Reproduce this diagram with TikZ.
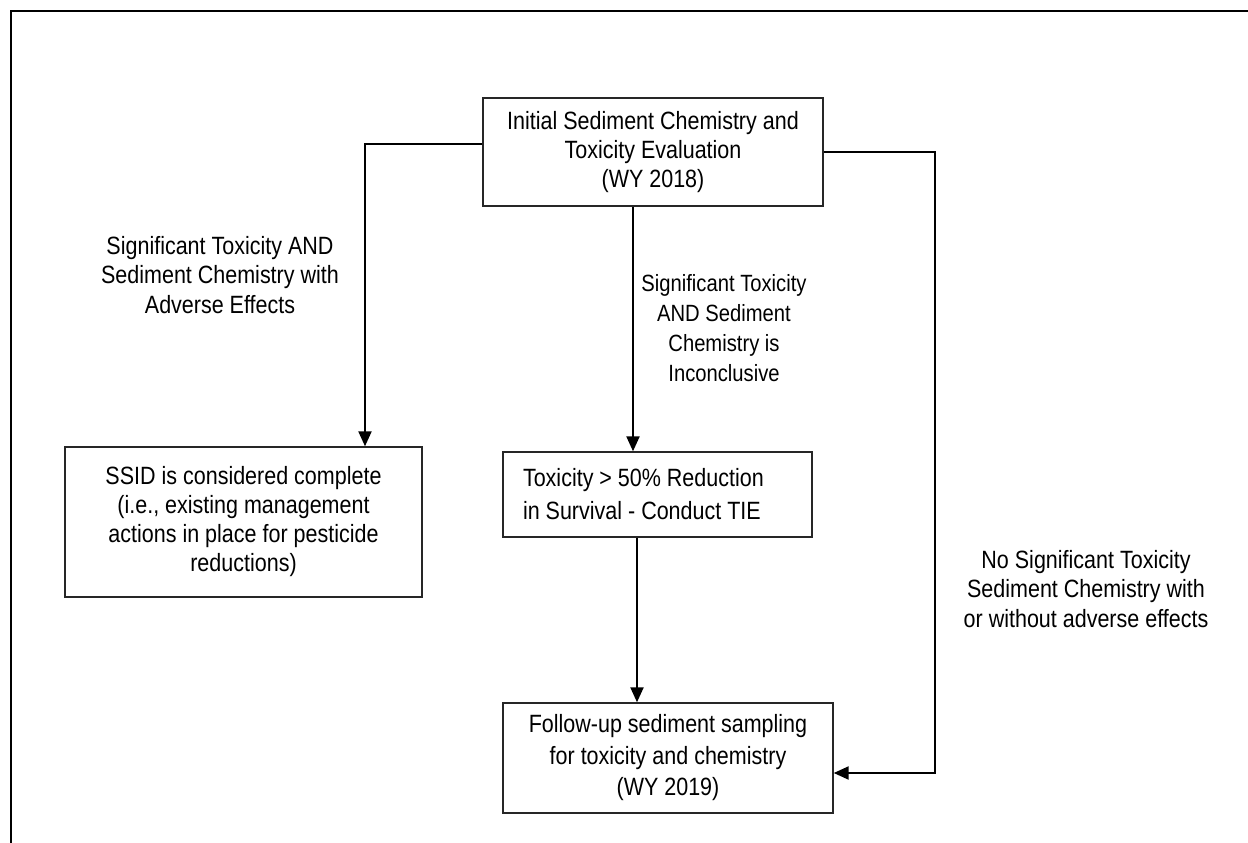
\documentclass[tikz,border=0pt]{standalone}
\usepackage{fontspec}
\setmainfont{Liberation Sans}[FakeStretch=0.86]
\usetikzlibrary{arrows.meta,calc}
\begin{document}
\begin{tikzpicture}[x=1pt,y=-1pt,
  box/.style={draw=black!85,line width=1.4pt,rectangle,inner sep=0pt,align=center,
    font=\fontsize{25}{29}\selectfont},
  lbl/.style={align=center,inner sep=0pt,font=\fontsize{25}{29.5}\selectfont},
  conn/.style={line width=2.2pt,-{Triangle[width=13pt,length=15pt]}}]
\useasboundingbox (0,0) rectangle (1248,843);
% outer frame (top and left edges)
\draw[line width=2.6pt] (11,843) -- (11,11) -- (1248,11);

\node[box,minimum width=340pt,minimum height=108pt] (top) at (653,152)
  {Initial Sediment Chemistry and\\Toxicity Evaluation\\(WY 2018)};
\node[box,minimum width=357pt,minimum height=150pt] (left) at (243.5,522)
  {SSID is considered complete\\(i.e., existing management\\actions in place for pesticide\\reductions)};
\node[box,minimum width=309pt,minimum height=85pt,align=left,text width=269pt,inner xsep=20pt,
  font=\fontsize{25}{33}\selectfont] (mid) at (657.5,494.5)
  {\spaceskip=0pt\xspaceskip=0pt\relax Toxicity > 50\% Reduction\\in Survival - Conduct TIE};
\node[box,minimum width=330pt,minimum height=110pt,font=\fontsize{25}{31.5}\selectfont] (bot) at (668,758)
  {Follow-up sediment sampling\\for toxicity and chemistry\\(WY 2019)};

\node[lbl] (l1) at (220,275) {Significant Toxicity AND\\Sediment Chemistry with\\Adverse Effects};
\node[lbl,font=\fontsize{23.5}{30}\selectfont] (l2) at (724,328) {Significant Toxicity\\AND Sediment\\Chemistry is\\Inconclusive};
\node[lbl] (l3) at (1086,589) {No Significant Toxicity\\Sediment Chemistry with\\or without adverse effects};

\coordinate (lc) at (365,144);
\coordinate (rc) at (935,152);
\draw[conn] (top.west |- lc) -- (lc) -- (lc |- left.north);
\draw[conn] (top.south -| 633,0) -- (mid.north -| 633,0);
\draw[conn] (mid.south -| 637,0) -- (bot.north -| 637,0);
\draw[conn] (top.east |- rc) -- (rc) -- (rc |- 0,773) -- (bot.east |- 0,773);
\end{tikzpicture}
\end{document}
